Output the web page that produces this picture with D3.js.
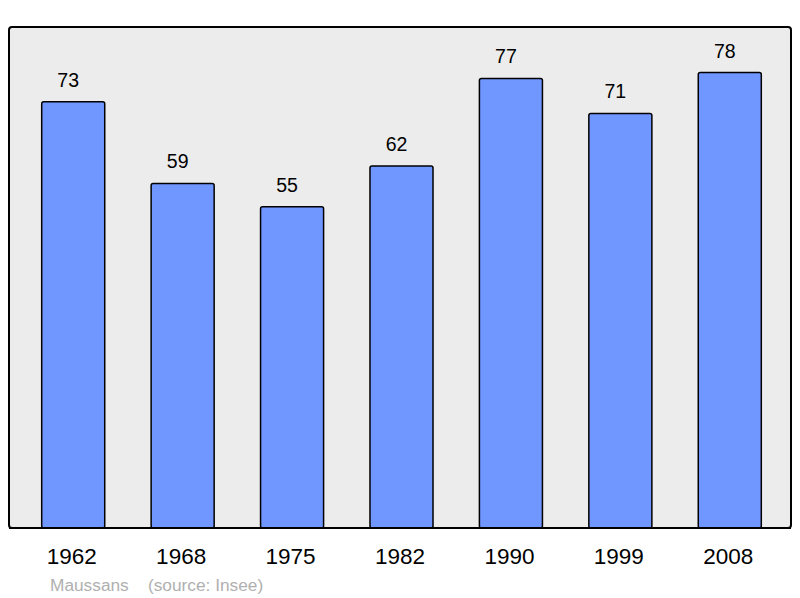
<!DOCTYPE html>
<html><head><meta charset="utf-8">
<script src="https://cdn.jsdelivr.net/npm/d3@7"></script>
<style>body{margin:0;background:#fff}svg{display:block}</style>
</head><body>
<svg id="c" width="800" height="598"></svg>
<script>
const years = ["1962","1968","1975","1982","1990","1999","2008"];
const population = [73,59,55,62,77,71,78];
const place = "Maussans";
const source = "(source: Insee)";

const svg = d3.select("#c");
const font = "'Liberation Sans', Arial, sans-serif";
const panel = {x0:9, y0:27, x1:791, y1:528};

svg.append("rect").attr("x",panel.x0).attr("y",panel.y0)
  .attr("width",panel.x1-panel.x0).attr("height",panel.y1-panel.y0)
  .attr("rx",3).attr("fill","#ececec").attr("stroke","#000").attr("stroke-width",2);

const x = d3.scaleBand().domain(years).range([18.5,784.5]).paddingInner(0.424).paddingOuter(0.212);
const y = d3.scaleLinear().domain([0, d3.max(population)*1.1]).range([panel.y1, panel.y0]);

const g = svg.append("g");
g.selectAll("rect.bar").data(years).join("rect").attr("class","bar")
  .attr("x",d=>x(d)).attr("width",x.bandwidth())
  .attr("y",(d,i)=>y(population[i])).attr("height",(d,i)=>y(0)-y(population[i]))
  .attr("rx",2).attr("fill","#7096ff").attr("stroke","#000").attr("stroke-width",1.5);

g.selectAll("text.val").data(years).join("text").attr("class","val")
  .attr("x",d=>x(d)+x.bandwidth()/2-5).attr("y",(d,i)=>y(population[i])-15)
  .attr("text-anchor","middle").attr("font-family",font).attr("font-size",19.5).attr("fill","#000")
  .text((d,i)=>population[i]);

svg.append("line").attr("x1",panel.x0).attr("x2",panel.x1).attr("y1",panel.y1).attr("y2",panel.y1)
  .attr("stroke","#000").attr("stroke-width",2);

const axis = d3.axisBottom(x).tickSize(0).tickPadding(0);
const ax = svg.append("g").attr("transform",`translate(0,${panel.y1})`).call(axis);
ax.select(".domain").remove();
ax.selectAll("text").attr("font-family",font).attr("font-size",22.5).attr("fill","#000")
  .attr("dy",null).attr("y",36.3).attr("x",-1.5);

svg.append("text").attr("x",50).attr("y",591).attr("font-family",font).attr("font-size",17.3)
  .attr("fill","#b0b0b0").attr("xml:space","preserve").text(place + "    " + source);
</script>
</body></html>
